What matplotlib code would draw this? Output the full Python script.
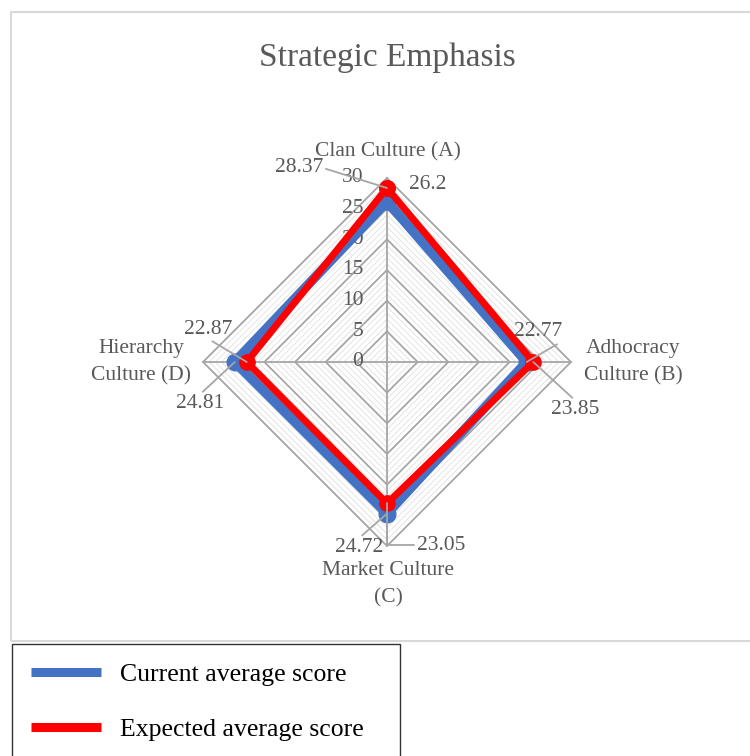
import numpy as np
import matplotlib
matplotlib.use("Agg")
import matplotlib.pyplot as plt
from matplotlib.lines import Line2D
from matplotlib.patches import Rectangle

plt.rcParams['font.family'] = ['Liberation Serif', 'DejaVu Serif']

# ---------------- data ----------------
categories = ["Clan Culture (A)", "Adhocracy\nCulture (B)", "Market Culture\n(C)", "Hierarchy\nCulture (D)"]
current = [26.2, 22.77, 24.72, 24.81]
expected = [28.37, 23.85, 23.05, 22.87]
series_names = ["Current average score", "Expected average score"]
ticks = [0, 5, 10, 15, 20, 25, 30]
title = "Strategic Emphasis"

# ---------------- layout ----------------
W, H = 750, 756
fig = plt.figure(figsize=(W / 100, H / 100), dpi=100)
cx, cy = 387, 362          # centre of radar, pixels from top-left
R_px = 184                 # pixels for the max value
rmax = 30
u = R_px / rmax            # px per unit
ax = fig.add_axes([0, 0, 1, 1])
ax.set_xlim(-cx / u, (W - cx) / u)
ax.set_ylim(-(H - cy) / u, cy / u)
ax.axis("off")

angles = np.deg2rad([90, 0, -90, 180])
cosA, sinA = np.cos(angles), np.sin(angles)

def ring(r):
    xs = np.append(r * cosA, r * cosA[0])
    ys = np.append(r * sinA, r * sinA[0])
    return xs, ys

# minor grid
for r in range(1, rmax):
    if r % 5:
        xs, ys = ring(r)
        ax.plot(xs, ys, color="#E0E0E0", lw=0.6, zorder=1)
# major grid
for r in ticks[1:]:
    xs, ys = ring(r)
    ax.plot(xs, ys, color="#A6A6A6", lw=1.3, zorder=2)
# spokes
for c, s in zip(cosA, sinA):
    ax.plot([0, rmax * c], [0, rmax * s], color="#A6A6A6", lw=1.3, zorder=2)

gray_txt = "#595959"
fs = 15.5
# tick labels
for t in ticks:
    ax.annotate(str(t), (0, t), xytext=(-17, 0), textcoords="offset points",
                ha="right", va="center", fontsize=fs, color=gray_txt, zorder=3)

# series
colors = ["#4472C4", "#FF0000"]
widths = [7.0, 5.0]
msize = [12, 11]
for vals, col, lw, ms in zip([current, expected], colors, widths, msize):
    v = np.array(vals)
    xs = np.append(v * cosA, v[0] * cosA[0])
    ys = np.append(v * sinA, v[0] * sinA[0])
    ax.plot(xs, ys, color=col, lw=lw, marker="o", ms=ms, zorder=5,
            solid_joinstyle="miter")

# category labels (offsets in px from vertex)
cat_offsets = [(1, 26), (62, 0), (1, -38), (-62, 0)]
for i, (lab, (dx, dy)) in enumerate(zip(categories, cat_offsets)):
    ax.annotate(lab, (rmax * cosA[i], rmax * sinA[i]), xytext=(dx * 0.72, dy * 0.72),
                textcoords="offset points", ha="center", va="center",
                fontsize=fs, color=gray_txt, linespacing=1.6, zorder=6)

# data labels: (series index, category index, offset px, relpos, leader, connection)
lead = "#A6A6A6"
label_specs = [
    (1, 0, (-88, 20), (1, 0.5), True, "arc3"),
    (0, 0, (41, 17), (0, 0.5), False, "arc3"),
    (0, 1, (11, 30), (1, 0), True, "arc3"),
    (1, 1, (42, -48), (0.5, 1), True, "arc3"),
    (0, 2, (-28, -34), (0.5, 1), True, "arc3"),
    (1, 2, (54, -42), (0, 0.5), True, "angle,angleA=0,angleB=90,rad=0"),
    (1, 3, (-39, 33), (0.5, 0), True, "arc3"),
    (0, 3, (-35, -42), (0.5, 1), True, "arc3"),
]
series_vals = [current, expected]
for si, ci, (dx, dy), rel, has_lead, conn in label_specs:
    v = series_vals[si][ci]
    kw = {}
    if has_lead:
        kw["arrowprops"] = dict(arrowstyle="-", color=lead, lw=1.3, shrinkA=0, shrinkB=0,
                                relpos=rel, connectionstyle=conn)
    ax.annotate(f"{v:g}", (v * cosA[ci], v * sinA[ci]), xytext=(dx * 0.72, dy * 0.72),
                textcoords="offset points", ha="center", va="center",
                fontsize=fs, color=gray_txt, zorder=7, **kw)

# title
fig.text(387 / W, 1 - 58 / H, title, ha="center", va="center", fontsize=24, color=gray_txt)

# chart border
fig.patches.append(Rectangle((11 / W, 1 - 641 / H), (W + 20) / W, (641 - 12) / H,
                             transform=fig.transFigure, fill=False,
                             edgecolor="#D9D9D9", lw=1.5, clip_on=False))

# legend
handles = [Line2D([], [], color=c, lw=6.5, solid_capstyle="butt") for c in colors]
leg = fig.legend(handles, series_names, loc="upper left",
                 bbox_to_anchor=(12 / W, 0, 388 / W, 1 - 644 / H), mode="expand",
                 frameon=True, fancybox=False, edgecolor="black", fontsize=18.5,
                 handlelength=2.7, handletextpad=0.75, labelspacing=1.25,
                 borderpad=0.75, borderaxespad=0)
leg.get_frame().set_linewidth(1.0)

fig.savefig("out.png", dpi=100)
